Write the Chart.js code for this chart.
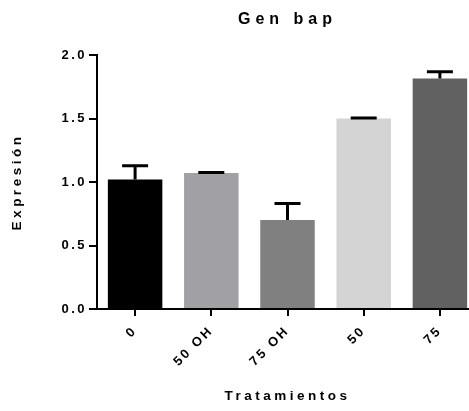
<!DOCTYPE html>
<html>
<head>
<meta charset="utf-8">
<title>Gen bap</title>
<script src="https://cdn.jsdelivr.net/npm/chart.js@4.4.1/dist/chart.umd.min.js"></script>
<style>
  html, body { margin: 0; padding: 0; background: #fff; overflow: hidden; }
  canvas { display: block; }
</style>
</head>
<body>
<canvas id="chartGen" width="480" height="411"></canvas>
<script>
// datos
const tratamientos = ["0", "50 OH", "75 OH", "50", "75"];
const expresion = [1.02, 1.07, 0.70, 1.50, 1.815];
const errores = [0.107, 0.004, 0.13, 0.004, 0.054];
const ticksY = [0, 0.5, 1.0, 1.5, 2.0];

const colores = ["#000000", "#a1a0a4", "#808080", "#d4d4d4", "#616161"];
const fuente = "'Liberation Sans', Arial, Helvetica, sans-serif";
// espaciado de letras segun tamaño de fuente (GraphPad separa mucho las letras)
const espaciado = { 16: 5, 13.5: 3.5, 13: 2.5 };

const canvas = document.getElementById("chartGen");
const ctx = canvas.getContext("2d");
const fillOrig = ctx.fillText.bind(ctx),
    measureOrig = ctx.measureText.bind(ctx);
function aplicarEspaciado() {
    const m = /(\d+(?:\.\d+)?)px/.exec(ctx.font);
    const sz = m ? parseFloat(m[1]) : 12;
    ctx.letterSpacing = (espaciado[sz] || 0) + "px";
}
ctx.fillText = function (t, x, y, w) {
    aplicarEspaciado();
    return w === undefined ? fillOrig(t, x, y) : fillOrig(t, x, y, w);
};
ctx.measureText = function (t) {
    aplicarEspaciado();
    return measureOrig(t);
};

//--------------------------------------------------------------------------------
const barrasError = {
    id: "barrasError",
    afterDatasetsDraw(chart) {
        const c = chart.ctx, y = chart.scales.y;
        chart.getDatasetMeta(0).data.forEach((bar, i) => {
            const tope = y.getPixelForValue(expresion[i] + errores[i]);
            c.save();
            c.strokeStyle = "#000";
            c.lineWidth = 3;
            c.beginPath();
            c.moveTo(bar.x, bar.y);
            c.lineTo(bar.x, tope);
            c.moveTo(bar.x - 13, tope);
            c.lineTo(bar.x + 13, tope);
            c.stroke();
            c.restore();
        });
    },
};

Chart.defaults.font.family = fuente;
Chart.defaults.color = "#000";

const chartGen = new Chart(canvas, {
    type: "bar",
    data: {
        labels: tratamientos,
        datasets: [
            {
                label: "Expresión",
                data: expresion,
                backgroundColor: colores,
                borderWidth: 0,
                categoryPercentage: 1,
                barPercentage: 0.715,
            },
        ],
    },
    options: {
        responsive: false,
        animation: false,
        devicePixelRatio: 1,
        layout: { padding: { left: 0, right: 2, top: 0, bottom: 0 } },
        plugins: {
            legend: { display: false },
            tooltip: { enabled: false },
            title: {
                display: true,
                text: "Gen bap",
                fullSize: false,
                color: "#000",
                font: { size: 16, weight: "bold" },
                padding: { top: 10, bottom: 25.8 },
            },
        },
        scales: {
            x: {
                offset: true,
                grid: {
                    offset: false,
                    drawOnChartArea: false,
                    drawTicks: true,
                    tickLength: 7,
                    color: "#000",
                    lineWidth: 2,
                },
                border: { display: true, color: "#000", width: 2 },
                ticks: {
                    color: "#000",
                    font: { size: 13, weight: "bold" },
                    minRotation: 45,
                    maxRotation: 45,
                    autoSkip: false,
                    padding: 7,
                },
                title: {
                    display: true,
                    text: "Tratamientos",
                    color: "#000",
                    font: { size: 13.5, weight: "bold" },
                    padding: { top: 0, bottom: 7 },
                },
                afterFit: (s) => { s.height = 102; },
            },
            y: {
                min: 0,
                max: 2,
                afterBuildTicks: (s) => { s.ticks = ticksY.map((v) => ({ value: v })); },
                grid: {
                    drawOnChartArea: false,
                    drawTicks: true,
                    tickLength: 8,
                    color: "#000",
                    lineWidth: 2,
                },
                border: { display: true, color: "#000", width: 2 },
                ticks: {
                    color: "#000",
                    font: { size: 13, weight: "bold" },
                    padding: 2,
                    callback: (v) => Number(v).toFixed(1),
                },
                title: {
                    display: true,
                    text: "Expresión",
                    color: "#000",
                    font: { size: 13.5, weight: "bold" },
                    padding: { top: 9, bottom: 0 },
                },
                afterFit: (s) => { s.width = 97; },
            },
        },
    },
    plugins: [barrasError],
});
</script>
</body>
</html>
